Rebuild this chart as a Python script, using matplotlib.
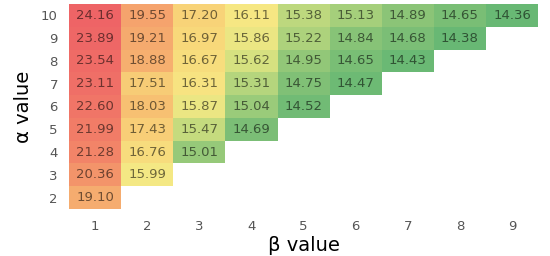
import numpy as np
import matplotlib
matplotlib.use("Agg")
import matplotlib.pyplot as plt
from matplotlib.colors import LinearSegmentedColormap, Normalize

alphas = [2, 3, 4, 5, 6, 7, 8, 9, 10]
betas = [1, 2, 3, 4, 5, 6, 7, 8, 9]
row_a10 = [24.16, 19.55, 17.20, 16.11, 15.38, 15.13, 14.89, 14.65, 14.36]
row_a9 = [23.89, 19.21, 16.97, 15.86, 15.22, 14.84, 14.68, 14.38]
row_a8 = [23.54, 18.88, 16.67, 15.62, 14.95, 14.65, 14.43]
row_a7 = [23.11, 17.51, 16.31, 15.31, 14.75, 14.47]
row_a6 = [22.60, 18.03, 15.87, 15.04, 14.52]
row_a5 = [21.99, 17.43, 15.47, 14.69]
row_a4 = [21.28, 16.76, 15.01]
row_a3 = [20.36, 15.99]
row_a2 = [19.10]
rows = [row_a2, row_a3, row_a4, row_a5, row_a6, row_a7, row_a8, row_a9, row_a10]

n = len(betas)
data = np.full((len(alphas), n), np.nan)
for i, r in enumerate(rows):
    data[i, :len(r)] = r
mdata = np.ma.masked_invalid(data)

vmin, vmax = 14.36, 24.16
stops = [
    (14.36, (104, 184, 116)),
    (14.75, (128, 192, 118)),
    (15.20, (172, 210, 124)),
    (15.60, (215, 225, 128)),
    (16.00, (246, 232, 132)),
    (17.00, (248, 216, 122)),
    (18.00, (247, 192, 114)),
    (19.30, (245, 168, 110)),
    (21.00, (242, 135, 104)),
    (24.16, (238, 100, 102)),
]
cmap = LinearSegmentedColormap.from_list(
    "ref", [((v - vmin) / (vmax - vmin), tuple(c / 255 for c in col)) for v, col in stops])
norm = Normalize(vmin=vmin, vmax=vmax)

fig = plt.figure(figsize=(5.5, 2.56), dpi=100)
ax = fig.add_axes([0.1255, 0.184, 0.853, 0.8])
ax.pcolormesh(np.arange(n + 1) + 0.5, np.arange(len(alphas) + 1) + 1.5, mdata,
              cmap=cmap, norm=norm, edgecolor="none")
for i, a in enumerate(alphas):
    for j, b in enumerate(betas):
        v = data[i, j]
        if np.isnan(v):
            continue
        c = np.array(cmap(norm(v))[:3]) * 0.45
        ax.text(b, a, f"{v:.2f}", ha="center", va="center", fontsize=9.5, color=c)

ax.set_xlim(0.5, n + 0.5)
ax.set_ylim(1.5, 10.5)
ax.set_xticks(betas)
ax.set_yticks(alphas)
ax.tick_params(length=0, labelsize=9.5, labelcolor="#555555", pad=8)
for s in ax.spines.values():
    s.set_visible(False)
ax.set_xlabel("β value", fontsize=14, labelpad=2)
ax.set_ylabel("α value", fontsize=14, labelpad=6)
fig.savefig("out.png", dpi=100)
